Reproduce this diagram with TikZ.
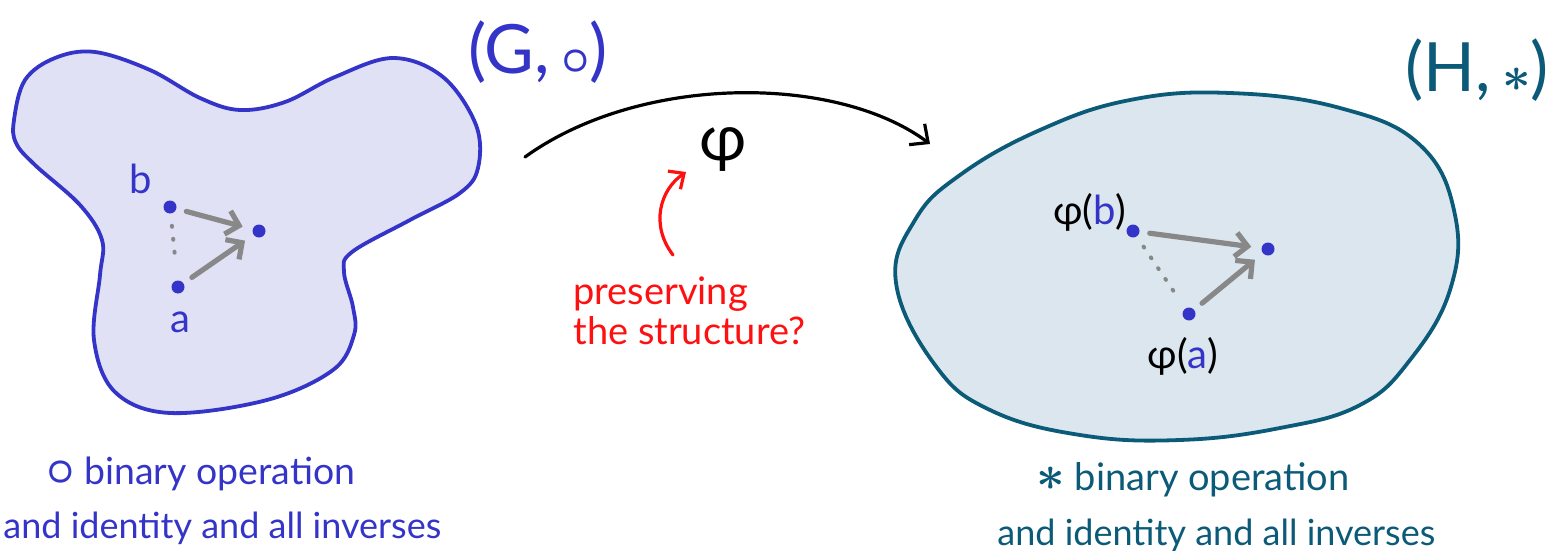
\documentclass[tikz,border=0pt]{standalone}
\usepackage{amsmath}
\usepackage{bm}
\usepackage{fontspec}
\setmainfont{Lato}
\usetikzlibrary{arrows.meta}
\definecolor{gblue}{HTML}{3434C8}
\definecolor{gfill}{HTML}{E0E1F5}
\definecolor{hteal}{HTML}{0B5A78}
\definecolor{hfill}{HTML}{DBE6EE}
\definecolor{opgrey}{HTML}{888888}
\definecolor{askred}{HTML}{FF1010}
\newcommand{\opsym}[2]{{\fontsize{#1}{#1}\selectfont$\bm{#2}$}}
\begin{document}
\begin{tikzpicture}[x=0.5pt, y=-0.5pt,
    elem/.style={circle, fill=gblue, inner sep=0pt, minimum size=6.5pt},
    oparrow/.style={-{Straight Barb[length=6pt, width=12pt]}, line width=2.6pt, opgrey, line cap=round, shorten <=5pt, shorten >=5pt},
    opdots/.style={opgrey, line width=2pt, line cap=round, dash pattern=on 0.5pt off 6pt, shorten <=6pt, shorten >=8pt},
    lab/.style={inner sep=0pt, font=\fontsize{20}{24}\selectfont},
    caption/.style={inner sep=0pt, font=\fontsize{18}{22}\selectfont}]
    \useasboundingbox (0,0) rectangle (1568,551);

    % Group G
    \draw[gblue, fill=gfill, line width=1.9pt] plot[smooth cycle, tension=0.6] coordinates {
        (14,120) (25,80) (55,58) (95,52) (150,70) (200,98) (240,110) (285,102) (335,77)
        (393,58) (443,77) (476,125) (478,168) (460,193) (410,220) (352,252) (344,272)
        (353,307) (354,335) (333,370) (267,400) (170,413) (115,392) (94,340) (100,275)
        (102,240) (80,205) (35,165) (16,143)};
    \node[gblue, inner sep=0pt, font=\fontsize{34}{38}\selectfont] (gname) at (538,52) {(G,\,\opsym{44}{\circ})};
    \node[elem] (gb) at (170,207) {};
    \node[elem] (gc) at (259,231) {};
    \node[elem] (ga) at (178,287) {};
    \node[lab, gblue] (gblab) at (141,179) {b};
    \node[lab, gblue] (galab) at (180,322) {a};
    \draw[oparrow] (gb) -- (gc);
    \draw[oparrow] (ga) -- (gc);
    \draw[opdots] (gb) -- (ga);

    % Group H
    \draw[hteal, fill=hfill, line width=1.9pt] plot[smooth cycle, tension=0.7] coordinates {
        (896,283) (915,220) (960,175) (1040,130) (1130,100) (1230,93) (1340,108)
        (1420,145) (1455,215) (1450,290) (1410,360) (1360,405) (1280,428) (1180,440)
        (1080,435) (990,410) (935,365)};
    \node[hteal, inner sep=0pt, font=\fontsize{34}{38}\selectfont] (hname) at (1477,70) {(H,\,\opsym{44}{\ast})};
    \node[elem] (hb) at (1133,231) {};
    \node[elem] (hc) at (1268,249) {};
    \node[elem] (ha) at (1189,314) {};
    \node[lab] (hblab) at (1090,212) {φ(\textcolor{gblue}{b})};
    \node[lab] (halab) at (1183,356) {φ(\textcolor{gblue}{a})};
    \draw[oparrow] (hb) -- (hc);
    \draw[oparrow] (ha) -- (hc);
    \draw[opdots] (hb) -- (ha);

    % The map
    \coordinate (mapfrom) at (525,157);
    \coordinate (mapto) at (930,144);
    \draw[-{Straight Barb[length=7pt, width=13pt]}, line width=1.6pt, line cap=round] (mapfrom) .. controls (640,74) and (836,74) .. (mapto);
    \node[inner sep=0pt, font=\fontsize{32}{36}\selectfont] (phi) at (723,150) {φ};

    % Question
    \node[askred, caption, align=left, anchor=north west, font=\fontsize{19}{20}\selectfont] (ask) at (573,276) {preserving\\the structure?};
    \coordinate (askfrom) at (673,255);
    \coordinate (askto) at (686,172);
    \draw[askred, -{Straight Barb[length=6pt, width=11pt]}, line width=1.6pt, line cap=round] (askfrom) .. controls (650,225) and (660,190) .. (askto);

    % Captions
    \node[caption, gblue, anchor=west, font=\fontsize{18.7}{22}\selectfont] (gop) at (46,474) {\opsym{26}{\circ} binary operation};
    \node[caption, gblue, anchor=west] (gid) at (3,528) {and identity and all inverses};
    \node[caption, hteal, anchor=west, font=\fontsize{19}{22}\selectfont] (hop) at (1036,480) {\opsym{26}{\ast} binary operation};
    \node[caption, hteal, anchor=west] (hid) at (997,535) {and identity and all inverses};
\end{tikzpicture}
\end{document}
